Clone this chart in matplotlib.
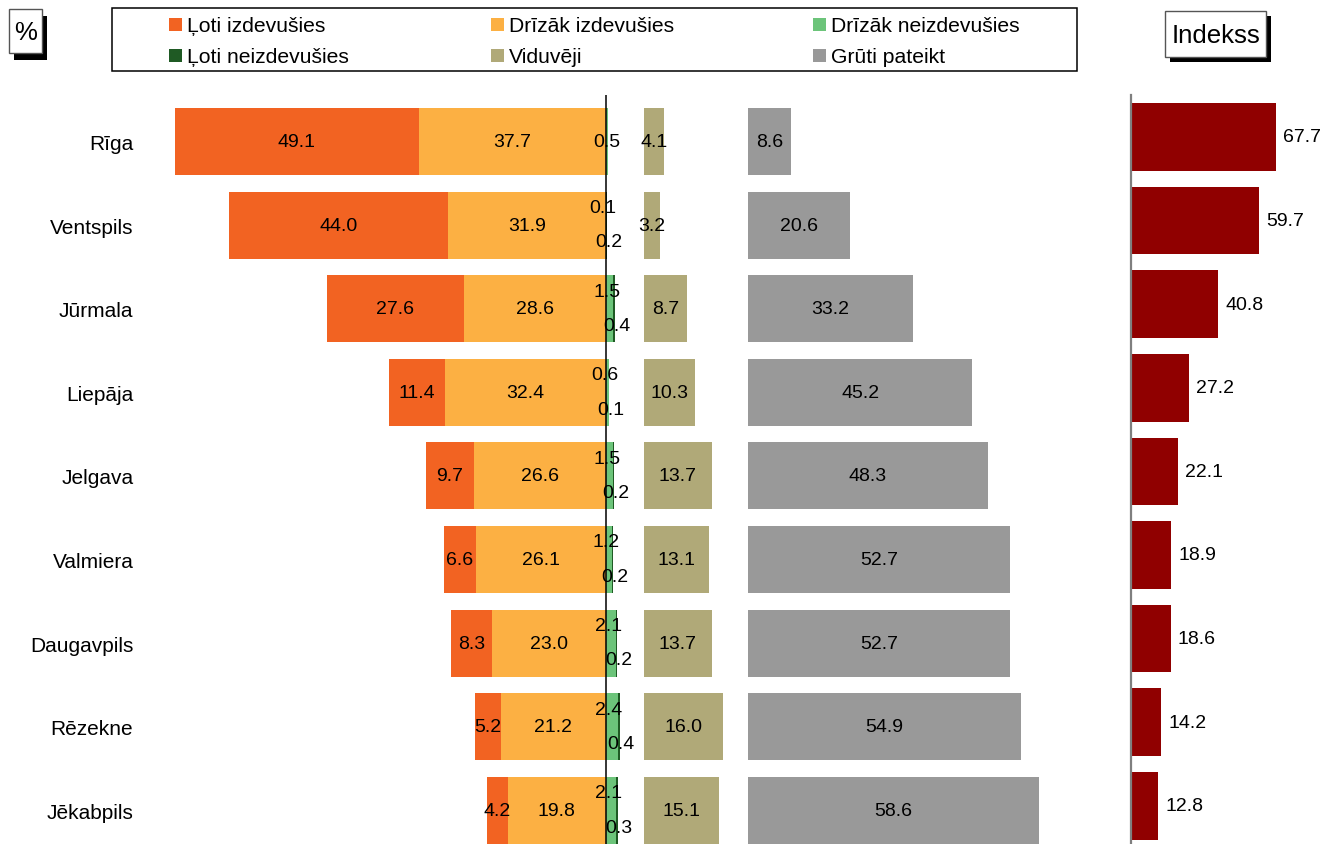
import matplotlib
matplotlib.use("Agg")
import matplotlib.pyplot as plt
from matplotlib.patches import Rectangle
import numpy as np

plt.rcParams['font.family'] = ['Liberation Sans', 'DejaVu Sans']

# ---------------- data ----------------
cities = ["Rīga", "Ventspils", "Jūrmala", "Liepāja", "Jelgava", "Valmiera",
          "Daugavpils", "Rēzekne", "Jēkabpils"]
loti_izdevusies = [49.1, 44.0, 27.6, 11.4, 9.7, 6.6, 8.3, 5.2, 4.2]
drizak_izdevusies = [37.7, 31.9, 28.6, 32.4, 26.6, 26.1, 23.0, 21.2, 19.8]
drizak_neizdevusies = [0.5, 0.1, 1.5, 0.6, 1.5, 1.2, 2.1, 2.4, 2.1]
loti_neizdevusies = [0.0, 0.2, 0.4, 0.1, 0.2, 0.2, 0.2, 0.4, 0.3]
viduveji = [4.1, 3.2, 8.7, 10.3, 13.7, 13.1, 13.7, 16.0, 15.1]
gruti_pateikt = [8.6, 20.6, 33.2, 45.2, 48.3, 52.7, 52.7, 54.9, 58.6]
indekss = [67.7, 59.7, 40.8, 27.2, 22.1, 18.9, 18.6, 14.2, 12.8]

legend_labels = ["Ļoti izdevušies", "Drīzāk izdevušies", "Drīzāk neizdevušies",
                 "Ļoti neizdevušies", "Viduvēji", "Grūti pateikt"]

# ---------------- style ----------------
C_LI = "#F26322"
C_DI = "#FCB043"
C_DN = "#6CC47A"
C_LN = "#1F5A24"
C_VI = "#B0A978"
C_GP = "#999999"
C_IX = "#900000"
FS = 14
FS_CAT = 15
FS_LEG = 15.2

W, H = 1322, 845
fig = plt.figure(figsize=(W / 100, H / 100), dpi=100)


def fx(x):
    return x / W


def fy(y):
    return 1 - y / H


CENTER_PX, SCALE = 606, 4.965
L_PX, R_PX = 150, 1100
TOP_PX, BOT_PX = 96, 845
FIRST, PITCH = 142.5, 83.6
n = len(cities)
ypos = np.arange(n)
BH = 0.8
VID_START = 7.6
GP_START = 28.6

ax = fig.add_axes([fx(L_PX), fy(BOT_PX), (R_PX - L_PX) / W, (BOT_PX - TOP_PX) / H])
ax.set_xlim((L_PX - CENTER_PX) / SCALE, (R_PX - CENTER_PX) / SCALE)
ybot = n - 1 + (BOT_PX - (FIRST + (n - 1) * PITCH)) / PITCH
ytop = -(FIRST - TOP_PX) / PITCH
ax.set_ylim(ybot, ytop)

li = np.array(loti_izdevusies)
di = np.array(drizak_izdevusies)
dn = np.array(drizak_neizdevusies)
ln = np.array(loti_neizdevusies)
vi = np.array(viduveji)
gp = np.array(gruti_pateikt)

ax.barh(ypos, -di, height=BH, color=C_DI, lw=0)
ax.barh(ypos, -li, left=-di, height=BH, color=C_LI, lw=0)
ax.barh(ypos, dn, left=0, height=BH, color=C_DN, lw=0)
ax.barh(ypos, ln, left=dn, height=BH, color=C_LN, lw=0)
ax.barh(ypos, vi, left=VID_START, height=BH, color=C_VI, lw=0)
ax.barh(ypos, gp, left=GP_START, height=BH, color=C_GP, lw=0)
ax.axvline(0, color="black", lw=1.1, zorder=5)

for i in range(n):
    ax.text(-di[i] - li[i] / 2, i, f"{li[i]:.1f}", ha="center", va="center", fontsize=FS, zorder=6)
    ax.text(-di[i] / 2, i, f"{di[i]:.1f}", ha="center", va="center", fontsize=FS, zorder=6)
    if ln[i] > 0:
        ax.text(dn[i] / 2 - 0.6, i - 0.21, f"{dn[i]:.1f}", ha="center", va="center", fontsize=FS, zorder=6)
        ax.text(dn[i] + ln[i] / 2 + 0.4, i + 0.2, f"{ln[i]:.1f}", ha="center", va="center", fontsize=FS, zorder=6)
    else:
        ax.text(dn[i] / 2, i, f"{dn[i]:.1f}", ha="center", va="center", fontsize=FS, zorder=6)
    ax.text(VID_START + vi[i] / 2, i, f"{vi[i]:.1f}", ha="center", va="center", fontsize=FS, zorder=6)
    ax.text(GP_START + gp[i] / 2, i, f"{gp[i]:.1f}", ha="center", va="center", fontsize=FS, zorder=6)

ax.set_yticks(ypos)
ax.set_yticklabels(cities, fontsize=FS_CAT)
ax.tick_params(axis="y", length=0, pad=12)
ax.set_xticks([])
for s in ax.spines.values():
    s.set_visible(False)

# ---------------- index panel ----------------
IX_L = 1131
IX_SCALE = 2.142
SHIFT = 4.5 / PITCH
ax2 = fig.add_axes([fx(IX_L), fy(BOT_PX), (W - IX_L) / W, (BOT_PX - TOP_PX) / H])
ax2.set_xlim(0, (W - IX_L) / IX_SCALE)
ax2.set_ylim(ybot + SHIFT, ytop + SHIFT)
ix = np.array(indekss)
ax2.barh(ypos, ix, height=0.81, color=C_IX, lw=0)
for i in range(n):
    ax2.annotate(f"{ix[i]:.1f}", (ix[i], i), xytext=(5, 0), textcoords="offset points",
                 ha="left", va="center", fontsize=FS)
ax2.set_xticks([])
ax2.set_yticks([])
for k, s in ax2.spines.items():
    s.set_visible(k == "left")
ax2.spines["left"].set_color("#7f7f7f")
ax2.spines["left"].set_linewidth(1.6)

# ---------------- legend ----------------
fig.add_artist(Rectangle((fx(111.5), fy(71.5)), (1077 - 111.5) / W, (71.5 - 8.5) / H,
                         transform=fig.transFigure, fill=False, ec="black", lw=1.1))
leg_colors = [C_LI, C_DI, C_DN, C_LN, C_VI, C_GP]
col_marker_x = [169, 491, 813]
row_base_y = [32.3, 63.3]
for k, (lab, col) in enumerate(zip(legend_labels, leg_colors)):
    r, c = divmod(k, 3)
    mx = col_marker_x[c]
    by = row_base_y[r]
    fig.add_artist(Rectangle((fx(mx), fy(by)), 13 / W, 13 / H, transform=fig.transFigure,
                             color=col, lw=0))
    fig.text(fx(mx + 18), fy(by), lab, ha="left", va="baseline", fontsize=FS_LEG)


# ---------------- boxed titles with shadow ----------------
def shadow_box(x0, y0, x1, y1, dx, dy, text, fs):
    fig.add_artist(Rectangle((fx(x0 + dx), fy(y1 + dy)), (x1 - x0) / W, (y1 - y0) / H,
                             transform=fig.transFigure, color="black", lw=0))
    fig.add_artist(Rectangle((fx(x0), fy(y1)), (x1 - x0) / W, (y1 - y0) / H,
                             transform=fig.transFigure, fc="white", ec="#555555", lw=1))
    fig.text(fx((x0 + x1) / 2), fy((y0 + y1) / 2 + 1), text, ha="center", va="center", fontsize=fs)


shadow_box(9, 10, 42, 54, 5, 7, "%", 18.5)
shadow_box(1165, 12, 1266, 58, 5, 5, "Indekss", 18.6)

fig.savefig("out.png", dpi=100)
